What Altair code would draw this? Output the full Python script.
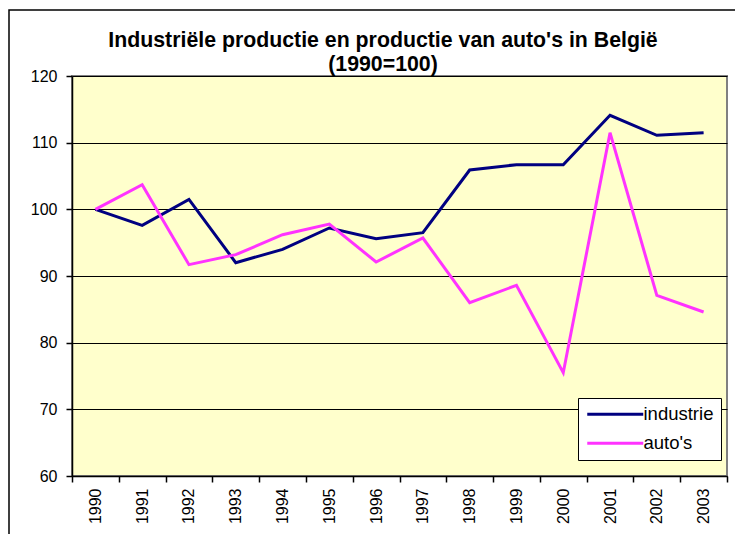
import altair as alt
import pandas as pd

years = [str(y) for y in range(1990, 2004)]
industrie = [100.0, 97.6, 101.5, 92.0, 94.0, 97.2, 95.6, 96.5, 105.9, 106.7, 106.7, 114.1, 111.1, 111.5]
autos = [100.0, 103.7, 91.7, 93.2, 96.2, 97.8, 92.1, 95.7, 86.0, 88.6, 75.5, 111.5, 87.1, 84.6]
series_names = ["industrie", "auto's"]
series_colors = ["#000080", "#FF33FF"]
title_lines = ["Industriële productie en productie van auto's in België", "(1990=100)"]

rows = []
for name, vals in zip(series_names, [industrie, autos]):
    for y, v in zip(years, vals):
        rows.append({"jaar": y, "waarde": v, "reeks": name})
df = pd.DataFrame(rows)

FONT = "Liberation Sans"

lines = alt.Chart(df).mark_line(strokeWidth=3, clip=True).encode(
    x=alt.X("jaar:N", sort=years, title=None,
            scale=alt.Scale(type="band", paddingInner=0, paddingOuter=0),
            axis=alt.Axis(labelAngle=270, tickBand="extent", tickSize=6,
                          labelFontSize=16, labelFont=FONT, labelColor="black",
                          labelPadding=6, domainColor="black", domainWidth=1.5,
                          tickColor="black", tickWidth=1.5, grid=False)),
    y=alt.Y("waarde:Q", title=None,
            scale=alt.Scale(domain=[60, 120], nice=False, zero=False),
            axis=alt.Axis(values=[60, 70, 80, 90, 100, 110, 120], tickSize=6,
                          labelFontSize=16, labelFont=FONT, labelColor="black",
                          labelPadding=9, domainColor="black", domainWidth=1.5,
                          tickColor="black", tickWidth=1.5,
                          grid=True, gridColor="black", gridWidth=1)),
    color=alt.Color("reeks:N", sort=series_names,
                    scale=alt.Scale(domain=series_names, range=series_colors),
                    legend=alt.Legend(title=None, orient="none", legendX=506, legendY=322,
                                      symbolType="M-4,0H4", symbolSize=196, symbolOffset=21,
                                      symbolStrokeWidth=3, labelFontSize=18.5, labelFont=FONT,
                                      labelColor="black", fillColor="white",
                                      strokeColor="black", padding=7, labelOffset=19,
                                      rowPadding=10)),
    order=alt.Order("reeks:N", sort="descending"),
)

frame = alt.Chart(pd.DataFrame({"k": [0]})).mark_rect(
    fill=None, stroke="black", strokeWidth=1.5, clip=False
).encode(
    x=alt.value(-63), y=alt.value(-66), x2=alt.value(900), y2=alt.value(900)
)

title = alt.Chart(pd.DataFrame({"t": [title_lines]})).mark_text(
    font=FONT, fontSize=21.3, fontWeight="bold", color="black",
    align="center", baseline="middle", lineHeight=24
).encode(text="t", x=alt.value(311), y=alt.value(-35))

chart = alt.layer(frame, lines, title).properties(
    width=655, height=400,
    padding={"left": 64, "top": 68, "right": 8, "bottom": 58},
    autosize=alt.AutoSizeParams(type="none"),
    background="white",
).configure_view(fill="#FFFFCC", stroke="#808080", strokeWidth=2)

chart.save("out.html", embed_options={"renderer": "svg", "actions": False})
